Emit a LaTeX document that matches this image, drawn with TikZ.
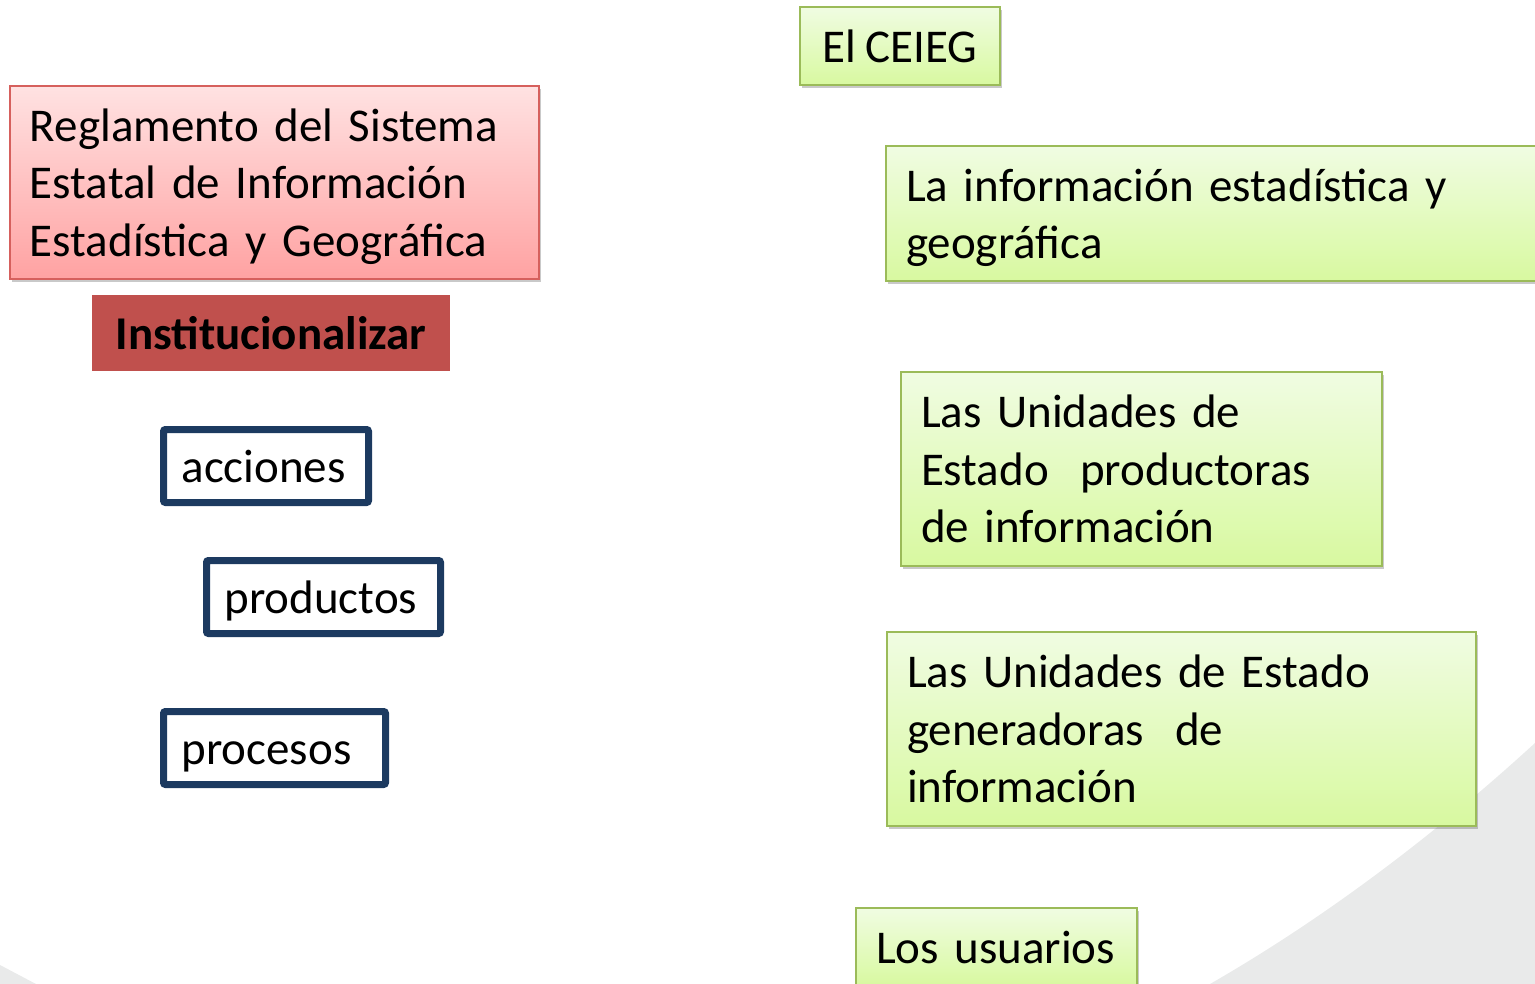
\documentclass[tikz,border=0pt]{standalone}
\usepackage{fontspec}
\setmainfont[WordSpace=0.85]{Carlito}
\usetikzlibrary{shadows}
\definecolor{redTop}{RGB}{255,226,226}
\definecolor{redBottom}{RGB}{255,162,162}
\definecolor{redLine}{RGB}{214,96,93}
\definecolor{redDark}{RGB}{192,80,77}
\definecolor{greenTop}{RGB}{240,252,226}
\definecolor{greenBottom}{RGB}{216,249,160}
\definecolor{greenLine}{RGB}{155,187,89}
\definecolor{blueLine}{RGB}{28,58,96}
\definecolor{bgGray}{RGB}{233,234,234}
\newcommand{\linestrut}{\rule[-0.25em]{0pt}{1.2em}}

\begin{document}
\begin{tikzpicture}[
		x=1pt, y=-1pt,
		every node/.style={
				inner ysep=0pt,
				outer sep=0pt,
				font=\fontsize{47}{57.5}\selectfont,
				execute at begin node=\linestrut,
				execute at end node=\linestrut
			},
		boxshadow/.style={
				drop shadow={shadow xshift=2pt, shadow yshift=-3pt, opacity=0.3, fill=black!70}
			},
		redbox/.style={
				draw=redLine, line width=1.5pt,
				top color=redTop, bottom color=redBottom,
				boxshadow, anchor=north west, align=left, inner xsep=20pt
			},
		greenbox/.style={
				draw=greenLine, line width=1.5pt,
				top color=greenTop, bottom color=greenBottom,
				boxshadow, anchor=north west, align=left, inner xsep=20pt
			},
		bluebox/.style={
				draw=blueLine, line width=7pt, rounded corners=2pt,
				fill=white, anchor=north west, align=left, inner xsep=18pt,
				minimum height=73pt
			}
	]
	\useasboundingbox (0,0) rectangle (1535,984);

	% grey background
	\fill[bgGray] (1535,743) .. controls (1440,830) and (1330,915) .. (1210,984) -- (1535,984) -- cycle;
	\fill[bgGray] (0,965) -- (36,984) -- (0,984) -- cycle;

	% left column
	\node[redbox, minimum width=529pt, minimum height=193pt, text width=489pt] (reglamento) at (10,86)
	{Reglamento del Sistema\\Estatal de Información\\Estadística y Geográfica};

	\node[anchor=north west, fill=redDark, minimum width=358pt, minimum height=76pt,
		font=\fontsize{47}{57.5}\selectfont\bfseries] (institucionalizar) at (92,295) {Institucionalizar};

	\node[bluebox, minimum width=205pt, text width=169pt] (acciones) at (163.5,429.5) {acciones};
	\node[bluebox, minimum width=234pt, text width=198pt] (productos) at (206.5,560.5) {productos};
	\node[bluebox, minimum width=222pt, text width=186pt] (procesos) at (163.5,711.5) {procesos};

	% right column
	\node[greenbox, inner xsep=0pt, minimum width=200pt, minimum height=78pt] (ceieg) at (800,7) {El CEIEG};

	\node[greenbox, minimum width=670pt, minimum height=135pt, text width=630pt] (informacion) at (886,146)
	{La información estadística y\\geográfica};

	\node[greenbox, minimum width=481pt, minimum height=194pt, text width=441pt] (productoras) at (901,372)
	{Las Unidades de\\Estado\ \ productoras\\de información};

	\node[greenbox, minimum width=589pt, minimum height=194pt, text width=549pt] (generadoras) at (887,632)
	{Las Unidades de Estado\\generadoras\ \ de\\información};

	\node[greenbox, minimum width=281pt, minimum height=78pt, text width=241pt] (usuarios) at (856,908) {Los usuarios};
\end{tikzpicture}
\end{document}
